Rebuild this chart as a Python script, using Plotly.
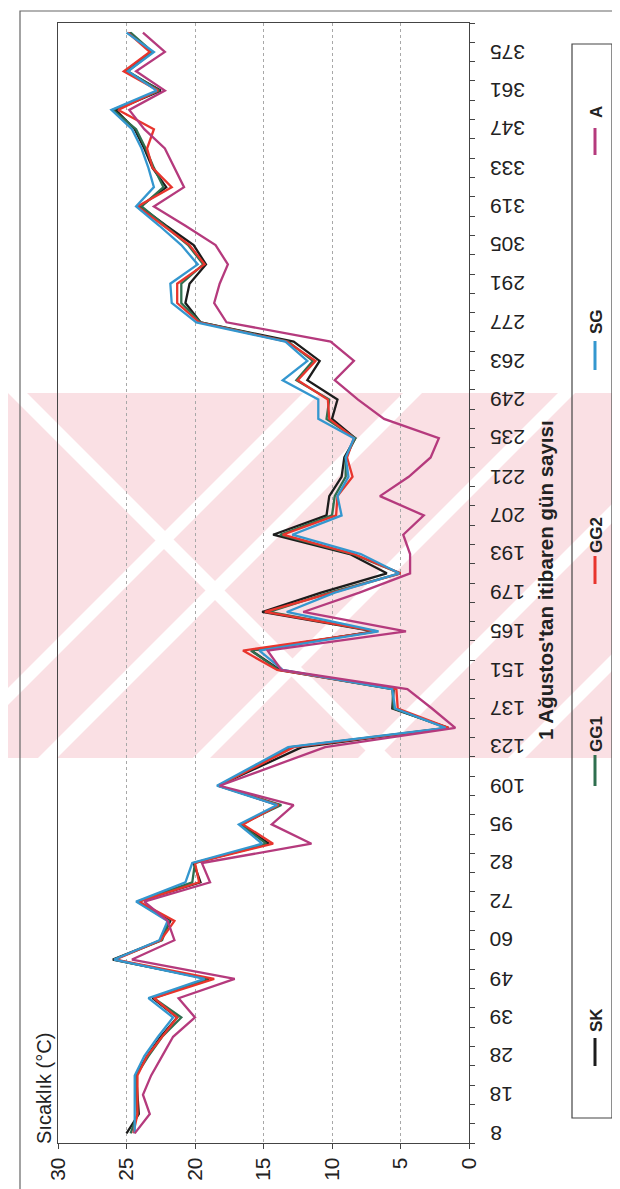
import plotly.graph_objects as go

# ---------------- data ----------------
days = [8, 13, 18, 23, 28, 33, 39, 44, 49, 54, 60, 66, 72, 77, 82, 88, 95, 102, 109, 116,
        123, 130, 137, 144, 151, 158, 165, 172, 179, 186, 193, 200, 207, 214, 221, 228, 235, 242, 249, 256,
        263, 270, 277, 284, 291, 298, 305, 312, 319, 326, 333, 340, 347, 354, 361, 368, 375, 382]
labeled_days = [8, 18, 28, 39, 49, 60, 72, 82, 95, 109, 123, 137, 151, 165, 179, 193, 207, 221,
                235, 249, 263, 277, 291, 305, 319, 333, 347, 361, 375]
temp_ticks = [0, 5, 10, 15, 20, 25, 30]

SK = [25.0, 24.1, 24.2, 24.3, 23.5, 22.5, 21.3, 23.1, 19.0, 26.0, 22.5, 21.8, 24.2, 19.6, 20.1, 14.6, 16.6, 13.9, 18.3, 15.3,
      12.2, 1.5, 5.6, 5.5, 13.8, 15.9, 6.9, 15.1, 10.8, 6.0, 8.7, 14.3, 10.4, 10.2, 9.3, 9.1, 8.3, 10.0, 9.6, 11.8,
      10.9, 12.8, 19.6, 20.7, 20.4, 19.2, 20.1, 22.1, 24.0, 22.1, 23.1, 23.7, 24.4, 25.8, 22.5, 25.0, 23.2, 24.8]
GG1 = [24.7, 24.2, 24.3, 24.3, 23.4, 22.4, 21.0, 23.0, 19.1, 25.9, 22.4, 21.9, 24.2, 20.2, 20.0, 14.8, 16.7, 13.7, 18.3, 15.6,
       13.0, 1.6, 5.5, 5.6, 13.9, 15.9, 6.8, 14.6, 10.2, 5.0, 8.5, 13.8, 10.0, 9.8, 9.0, 9.0, 8.3, 10.4, 10.2, 12.6,
       11.4, 13.2, 19.6, 21.0, 21.0, 19.4, 20.5, 22.2, 23.9, 22.3, 23.0, 23.6, 24.3, 26.0, 22.6, 24.9, 23.1, 24.7]
GG2 = [24.5, 24.2, 24.2, 24.2, 23.5, 22.4, 21.3, 23.0, 18.6, 25.8, 22.5, 21.5, 24.1, 19.7, 20.0, 14.3, 16.5, 13.9, 18.3, 15.5,
       12.8, 1.5, 5.2, 5.3, 14.0, 16.5, 6.7, 14.9, 10.0, 5.0, 8.4, 13.6, 9.7, 9.6, 8.5, 8.9, 8.4, 10.2, 10.3, 12.5,
       11.2, 13.3, 19.7, 21.3, 21.3, 19.3, 20.4, 22.3, 24.2, 21.7, 23.1, 23.5, 23.0, 25.6, 22.7, 25.2, 23.3, 24.9]
SG = [24.4, 24.4, 24.4, 24.4, 23.7, 22.7, 21.6, 23.4, 19.3, 25.9, 22.6, 22.0, 24.3, 20.7, 20.2, 15.1, 16.8, 14.0, 18.4, 15.8,
      13.2, 1.7, 5.4, 5.6, 13.6, 15.3, 6.6, 13.3, 9.8, 5.1, 7.9, 12.9, 9.3, 9.6, 8.8, 9.0, 8.4, 11.0, 11.0, 13.6,
      11.8, 13.4, 19.9, 21.7, 21.8, 19.8, 21.0, 22.6, 24.3, 23.0, 23.4, 23.9, 24.6, 26.1, 22.8, 24.9, 23.0, 25.0]
A = [24.4, 23.3, 23.8, 23.2, 22.4, 21.6, 20.0, 21.2, 17.1, 24.6, 21.5, 22.0, 23.7, 18.9, 19.5, 11.5, 14.4, 12.8, 18.2, 14.3,
     10.5, 1.0, 2.7, 4.5, 13.7, 14.7, 4.6, 12.1, 8.0, 4.3, 4.3, 4.8, 3.3, 6.5, 4.4, 2.8, 2.2, 6.2, 8.1, 9.8,
     8.4, 10.1, 17.7, 18.6, 18.2, 17.6, 18.5, 20.7, 23.0, 20.8, 21.5, 22.2, 23.7, 24.8, 22.2, 24.3, 22.2, 23.8]

series_names = ["SK", "GG1", "GG2", "SG", "A"]
series_values = [SK, GG1, GG2, SG, A]
series_colors = ["#1c1c1c", "#2f6f4f", "#e8352d", "#3497cf", "#b53a7d"]

# ---------------- layout geometry ----------------
W, H = 620, 1189
L, R, T, B = 50, 461, 15, 1135   # plot area in pixels


def xp(px):
    return (px - L) / (R - L)


def yp(py):
    return (B - py) / (B - T)


FONT = "Liberation Sans, Arial, sans-serif"
cats = [str(d) for d in days]

fig = go.Figure()
for name, vals, col in zip(series_names, series_values, series_colors):
    fig.add_trace(go.Scatter(x=vals, y=cats, mode="lines", name=name,
                             line=dict(color=col, width=2.3), showlegend=False))

shapes = []
# watermark band (pink with white diagonal stripes)
band_top, band_bot = 385, 750
shapes.append(dict(type="rect", xref="paper", yref="paper", layer="below",
                   x0=xp(0), x1=xp(W), y0=yp(band_bot), y1=yp(band_top),
                   fillcolor="#fae0e4", line=dict(width=0)))
hgt = band_bot - band_top
for x0, w in [(-70, 17), (30, 19), (185, 17), (350, 19), (500, 17)]:
    pts = [(x0, band_bot), (x0 + w, band_bot), (x0 + w + hgt, band_top), (x0 + hgt, band_top)]
    path = "M " + " L ".join(f"{xp(a):.5f},{yp(b):.5f}" for a, b in pts) + " Z"
    shapes.append(dict(type="path", xref="paper", yref="paper", layer="below", path=path,
                       fillcolor="white", line=dict(width=0)))
for x0, w in [(0, 19)]:
    pts = [(x0, band_top), (x0 + w, band_top), (x0 + w + hgt, band_bot), (x0 + hgt, band_bot)]
    path = "M " + " L ".join(f"{xp(a):.5f},{yp(b):.5f}" for a, b in pts) + " Z"
    shapes.append(dict(type="path", xref="paper", yref="paper", layer="below", path=path,
                       fillcolor="white", line=dict(width=0)))

# outer chart frame
shapes.append(dict(type="rect", xref="paper", yref="paper", layer="above",
                   x0=xp(12), x1=xp(613), y0=yp(1185), y1=yp(3),
                   line=dict(color="#666", width=1.2)))
# legend box
shapes.append(dict(type="rect", xref="paper", yref="paper", layer="above",
                   x0=xp(564), x1=xp(604), y0=yp(1110), y1=yp(36),
                   line=dict(color="#444", width=1.2)))

annotations = []
legend_pos = [(1012, 1030, 1058), (726, 747, 778), (527, 548, 576), (314, 333, 362), (104, 120, 147)]
for (ty, l0, l1), name, col in zip(legend_pos, series_names, series_colors):
    shapes.append(dict(type="line", xref="paper", yref="paper", layer="above",
                       x0=xp(587), x1=xp(587), y0=yp(l0), y1=yp(l1),
                       line=dict(color=col, width=3)))
    annotations.append(dict(text=f"<b>{name}</b>", xref="paper", yref="paper",
                            x=xp(588), y=yp(ty), textangle=-90, showarrow=False,
                            xanchor="center", yanchor="middle",
                            font=dict(family=FONT, size=17, color="#222")))

# day tick labels (upside-down, as in the rotated original); y = category position
for d in labeled_days:
    annotations.append(dict(text=str(d), xref="paper", yref="y", x=xp(480), y=days.index(d),
                            textangle=180, showarrow=False, xanchor="left", yanchor="middle",
                            font=dict(family=FONT, size=21, color="#222")))

annotations.append(dict(text="Sıcaklık (°C)", xref="paper", yref="paper",
                        x=xp(36), y=yp(1081), textangle=-90, showarrow=False,
                        xanchor="center", yanchor="middle",
                        font=dict(family=FONT, size=20, color="#222")))
annotations.append(dict(text="<b>1 Ağustos'tan itibaren gün sayısı</b>", xref="paper", yref="paper",
                        x=xp(537), y=yp(572), textangle=-90, showarrow=False,
                        xanchor="center", yanchor="middle",
                        font=dict(family=FONT, size=20.5, color="#222")))

fig.update_layout(
    width=W, height=H,
    margin=dict(l=L, r=W - R, t=T, b=H - B, pad=0),
    paper_bgcolor="white", plot_bgcolor="rgba(0,0,0,0)",
    font=dict(family=FONT, size=21, color="#222"),
    shapes=shapes, annotations=annotations,
    xaxis=dict(range=[30, 0], tickvals=temp_ticks, tickangle=-90,
               ticks="outside", ticklen=5, tickcolor="#444",
               showgrid=True, gridcolor="#a8a8a8", griddash="dot", gridwidth=1,
               zeroline=False, showline=True, linecolor="#444", linewidth=1.2, mirror=True,
               tickfont=dict(family=FONT, size=21, color="#222")),
    yaxis=dict(type="category", categoryorder="array", categoryarray=cats,
               range=[-0.5, len(cats) - 0.5],
               tickvals=cats, showticklabels=False, side="right",
               tickson="boundaries", ticks="outside", ticklen=5, tickcolor="#444",
               showgrid=False, zeroline=False, showline=True, linecolor="#444",
               linewidth=1.2, mirror=True),
)

fig.write_html("out.html")
